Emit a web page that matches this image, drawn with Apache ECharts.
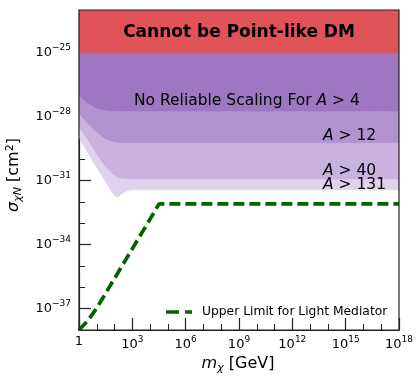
<!DOCTYPE html>
<html>
<head>
<meta charset="utf-8">
<script src="https://cdn.jsdelivr.net/npm/echarts@6/dist/echarts.min.js"></script>
<style>
  html, body { margin: 0; padding: 0; background: #fff; }
  #chart { width: 416px; height: 381px; }
</style>
</head>
<body>
<div id="chart"></div>
<script>
// everything is in exponents: log10(m / GeV) and log10(sigma / cm^2)
const massA4 = [0, 0.52, 1.09, 1.5, 1.84, 18];
const sigmaA4 = [-26.98, -27.38, -27.62, -27.7, -27.74, -27.74];

const massA12 = [0, 0.7, 1.46, 2.0, 2.5, 18];
const sigmaA12 = [-27.85, -28.48, -29.02, -29.17, -29.22, -29.22];

const massA40 = [0, 0.5, 1.0, 1.5, 2.0, 2.5, 3.0, 18];
const sigmaA40 = [-28.48, -29.1, -29.75, -30.35, -30.75, -30.9, -30.92, -30.92];

const massA131 = [0, 0.5, 1.0, 1.5, 1.9, 2.15, 2.45, 2.8, 3.2, 18];
const sigmaA131 = [-29.0, -29.7, -30.4, -31.05, -31.6, -31.76, -31.6, -31.45, -31.43, -31.43];

const massPoint = [0, 18];
const sigmaPoint = [-25, -25];

const massLight = [0, 0.52, 1.0, 2.0, 3.0, 4.0, 4.5, 18];
const sigmaLight = [-38, -37.54, -36.97, -35.58, -34.19, -32.8, -32.09, -32.09];

const yTicks = [-37, -34, -31, -28, -25];

const FONT = 'DejaVu Sans';

function pairs(xs, ys) {
  return xs.map((x, i) => [x, ys[i]]);
}

function band(name, xs, ys, color, z) {
  return {
    name: name,
    type: 'line',
    data: pairs(xs, ys),
    smooth: 0.3,
    symbol: 'none',
    silent: true,
    z: z,
    lineStyle: { width: 0.5, color: color },
    areaStyle: { origin: 'end', color: color, opacity: 1 }
  };
}

function powLabel(v) {
  if (v === 0) return '{b|1}';
  return '{b|10}{s|' + String(v).replace('-', '\u2212') + '}';
}

const labelRich = {
  b: { fontSize: 13, fontFamily: FONT, color: '#000' },
  s: { fontSize: 9, fontFamily: FONT, color: '#000', padding: [0, 0, 10, 0] }
};

const italic = { fontStyle: 'italic', fontSize: 15.5, fontFamily: FONT };

const chart = echarts.init(document.getElementById('chart'));

const option = {
  animation: false,
  backgroundColor: '#fff',
  grid: {
    left: 79, top: 10, width: 320, height: 320,
    show: true, borderColor: '#222', borderWidth: 1.2, backgroundColor: 'transparent', z: 10
  },
  xAxis: {
    type: 'value',
    min: 0,
    max: 18,
    interval: 3,
    axisLine: { lineStyle: { color: '#222', width: 1.2 } },
    axisTick: { inside: true, length: 12, lineStyle: { color: '#222', width: 1.2 } },
    minorTick: { show: true, splitNumber: 3, length: 6, lineStyle: { color: '#222', width: 1 } },
    splitLine: { show: false },
    axisLabel: { margin: 5, formatter: powLabel, rich: labelRich }
  },
  yAxis: [
    {
      type: 'value',
      min: -38,
      max: -23,
      interval: 1,
      axisLine: { lineStyle: { color: '#222', width: 1.2 } },
      axisTick: { inside: true, length: 6, lineStyle: { color: '#222', width: 1 } },
      axisLabel: { show: false },
      splitLine: { show: false }
    },
    {
      type: 'value',
      position: 'left',
      min: -38,
      max: -23,
      axisLine: { show: false },
      axisTick: { inside: true, length: 12, customValues: yTicks, lineStyle: { color: '#222', width: 1.2 } },
      axisLabel: { margin: 8, customValues: yTicks, formatter: powLabel, rich: labelRich },
      splitLine: { show: false }
    }
  ],
  series: [
    band('A > 131', massA131, sigmaA131, '#dfd2ec', 1),
    band('A > 40', massA40, sigmaA40, '#c9b2de', 2),
    band('A > 12', massA12, sigmaA12, '#b293d0', 3),
    band('A > 4', massA4, sigmaA4, '#9e76c2', 4),
    band('Cannot be Point-like DM', massPoint, sigmaPoint, '#e05459', 5),
    {
      name: 'Upper Limit for Light Mediator',
      type: 'line',
      data: pairs(massLight, sigmaLight),
      symbol: 'none',
      z: 6,
      lineStyle: { color: '#006400', width: 3.7, type: [11, 5] }
    }
  ],
  graphic: [
    {
      type: 'text', x: 239, y: 33, z: 20,
      style: { text: 'Cannot be Point-like DM', fontSize: 17, fontWeight: 'bold', fontFamily: FONT,
        fill: '#000', align: 'center', verticalAlign: 'middle' }
    },
    {
      type: 'text', x: 134, y: 101, z: 20,
      style: { text: 'No Reliable Scaling For {i|A} > 4', fontSize: 15.5, fontFamily: FONT, fill: '#000',
        align: 'left', verticalAlign: 'middle', rich: { i: italic } }
    },
    {
      type: 'text', x: 323, y: 135.5, z: 20,
      style: { text: '{i|A} > 12', fontSize: 15.5, fontFamily: FONT, fill: '#000', align: 'left', verticalAlign: 'middle',
        rich: { i: italic } }
    },
    {
      type: 'text', x: 323, y: 170.5, z: 20,
      style: { text: '{i|A} > 40', fontSize: 15.5, fontFamily: FONT, fill: '#000', align: 'left', verticalAlign: 'middle',
        rich: { i: italic } }
    },
    {
      type: 'text', x: 323, y: 184.5, z: 20,
      style: { text: '{i|A} > 131', fontSize: 15.5, fontFamily: FONT, fill: '#000', align: 'left', verticalAlign: 'middle',
        rich: { i: italic } }
    },
    // legend
    {
      type: 'line', z: 20,
      shape: { x1: 166, y1: 312, x2: 192, y2: 312 },
      style: { stroke: '#006400', lineWidth: 3.7, lineDash: [13, 6] }
    },
    {
      type: 'text', x: 202, y: 312, z: 20,
      style: { text: 'Upper Limit for Light Mediator', fontSize: 12.3, fontFamily: FONT, fill: '#000',
        align: 'left', verticalAlign: 'middle' }
    },
    {
      type: 'text', x: 238, y: 364, z: 20,
      style: { text: '{i|m}{sub|\u03c7} [GeV]', fontSize: 16, fontFamily: FONT, fill: '#000',
        align: 'center', verticalAlign: 'middle',
        rich: {
          i: { fontStyle: 'italic', fontSize: 16, fontFamily: FONT },
          sub: { fontStyle: 'italic', fontSize: 11, fontFamily: FONT, padding: [8, 0, 0, 0] }
        } }
    },
    {
      type: 'text', x: 14, y: 175, rotation: Math.PI / 2, z: 20,
      style: { text: '{i|\u03c3}{sub|\u03c7N} [cm{sup|2}]', fontSize: 16, fontFamily: FONT, fill: '#000',
        align: 'center', verticalAlign: 'middle',
        rich: {
          i: { fontStyle: 'italic', fontSize: 16, fontFamily: FONT },
          sub: { fontStyle: 'italic', fontSize: 11, fontFamily: FONT, padding: [8, 0, 0, 0] },
          sup: { fontSize: 11, fontFamily: FONT, padding: [0, 0, 8, 0] }
        } }
    }
  ]
};

chart.setOption(option);
</script>
</body>
</html>
